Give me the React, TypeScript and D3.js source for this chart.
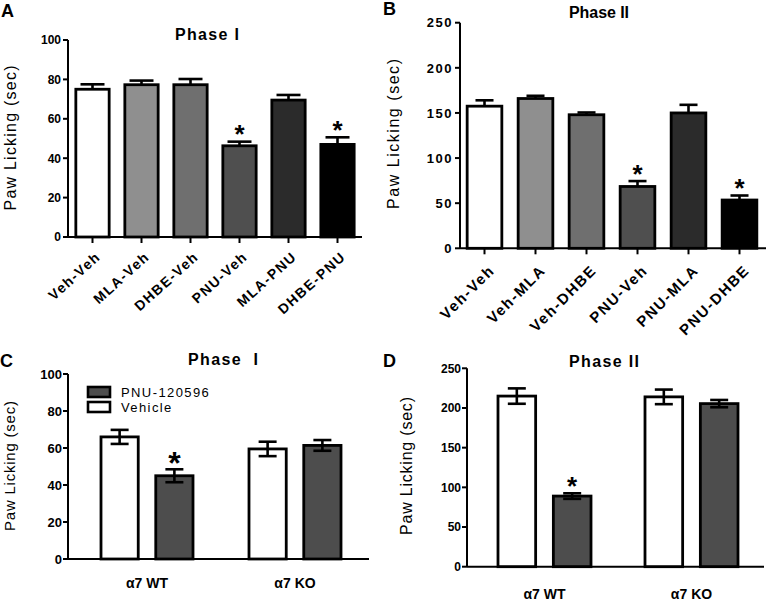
import React from "react";
import * as d3 from "d3";

// ---------- data ----------
const catsA = ["Veh-Veh", "MLA-Veh", "DHBE-Veh", "PNU-Veh", "MLA-PNU", "DHBE-PNU"];
const valsA = [75, 77.3, 77.3, 46.3, 69.5, 47];
const errA = [2.5, 2.1, 2.9, 2.1, 2.6, 3.6];
const sigA = [false, false, false, true, false, true];
const ticksA = [0, 20, 40, 60, 80, 100];

const catsB = ["Veh-Veh", "Veh-MLA", "Veh-DHBE", "PNU-Veh", "PNU-MLA", "PNU-DHBE"];
const valsB = [157.5, 166, 148, 68.5, 150, 53.5];
const errB = [6.5, 3, 2.5, 6, 9, 5];
const sigB = [false, false, false, true, false, true];
const ticksB = [0, 50, 100, 150, 200, 250];

const groups = ["α7 WT", "α7 KO"];
const treatments = ["Vehicle", "PNU-120596"];
const legendOrder = ["PNU-120596", "Vehicle"];

const vehC = [66, 59.5];
const vehErrC = [3.8, 3.9];
const pnuC = [45, 61.4];
const pnuErrC = [3.5, 2.9];
const sigC = [true, false];
const ticksC = [0, 20, 40, 60, 80, 100];

const vehD = [215, 214];
const vehErrD = [9.7, 9.2];
const pnuD = [89, 205.5];
const pnuErrD = [3.5, 4.6];
const sigD = [true, false];
const ticksD = [0, 50, 100, 150, 200, 250];

// ---------- style ----------
const FONT = "'Liberation Sans', Arial, Helvetica, sans-serif";
const fillsSix = ["#ffffff", "#8f8f8f", "#6f6f6f", "#4f4f4f", "#2b2b2b", "#000000"];
const treatFill: Record<string, string> = { Vehicle: "#ffffff", "PNU-120596": "#4d4d4d" };

type YAxisProps = {
  x: number;
  y: d3.ScaleLinear<number, number>;
  ticks: number[];
  fs: number;
  ls: number;
  gap: number;
};

function YAxis({ x, y, ticks, fs, ls, gap }: YAxisProps) {
  const [r0, r1] = y.range();
  return (
    <g>
      <line x1={x} x2={x} y1={r0} y2={r1} stroke="#000" strokeWidth={2} />
      {ticks.map((t) => (
        <g key={t}>
          <line x1={x - 5} x2={x} y1={y(t)} y2={y(t)} stroke="#000" strokeWidth={2} />
          <text
            x={x - gap}
            y={y(t)}
            dy="0.36em"
            textAnchor="end"
            fontFamily={FONT}
            fontWeight="bold"
            fontSize={fs}
            letterSpacing={ls}
          >
            {t}
          </text>
        </g>
      ))}
    </g>
  );
}

type BarProps = {
  cx: number;
  w: number;
  y: d3.ScaleLinear<number, number>;
  v: number;
  e: number;
  fill: string;
  both: boolean;
  capW: number;
  sig: boolean;
  star: number;
};

function Bar({ cx, w, y, v, e, fill, both, capW, sig, star }: BarProps) {
  const y0 = y(0);
  const yt = y(v);
  const ye = y(v + e);
  const yl = y(v - e);
  return (
    <g>
      {!both && (
        <g stroke="#000" strokeWidth={2.6}>
          <line x1={cx} x2={cx} y1={yt} y2={ye} />
          <line x1={cx - capW / 2} x2={cx + capW / 2} y1={ye} y2={ye} />
        </g>
      )}
      <rect x={cx - w / 2} y={yt} width={w} height={y0 - yt} fill={fill} stroke="#000" strokeWidth={2.8} />
      {both && (
        <g stroke="#000" strokeWidth={2.6}>
          <line x1={cx} x2={cx} y1={yl} y2={ye} />
          <line x1={cx - capW / 2} x2={cx + capW / 2} y1={ye} y2={ye} />
          <line x1={cx - capW / 2} x2={cx + capW / 2} y1={yl} y2={yl} />
        </g>
      )}
      {sig && (
        <text
          x={cx}
          y={ye - 13 + 0.56 * star}
          textAnchor="middle"
          fontFamily={FONT}
          fontWeight="bold"
          fontSize={star}
        >
          *
        </text>
      )}
    </g>
  );
}

function YLabel({ x, y, len, fs }: { x: number; y: number; len: number; fs: number }) {
  return (
    <text
      transform={`translate(${x},${y}) rotate(-90)`}
      textAnchor="middle"
      fontFamily={FONT}
      fontSize={fs}
      textLength={len}
      lengthAdjust="spacing"
    >
      Paw Licking (sec)
    </text>
  );
}

function Title({ x, y, len, text }: { x: number; y: number; len: number; text: string }) {
  return (
    <text
      x={x}
      y={y}
      textAnchor="middle"
      fontFamily={FONT}
      fontWeight="bold"
      fontSize={16}
      textLength={len}
      lengthAdjust="spacing"
      style={{ whiteSpace: "pre" }}
    >
      {text}
    </text>
  );
}

function Letter({ x, y, t }: { x: number; y: number; t: string }) {
  return (
    <text x={x} y={y} fontFamily={FONT} fontWeight="bold" fontSize={18}>
      {t}
    </text>
  );
}

function PanelSix({
  cats,
  vals,
  errs,
  sig,
  ticks,
  xRange,
  axisX,
  axisEnd,
  yRange,
  capFrac,
  tickFs,
  tickLs,
  tickGap,
  lblFs,
  lblLs,
  lblDx,
  lblDy,
  lblAngle,
}: any) {
  const x = d3
    .scaleBand<string>()
    .domain(cats)
    .range([xRange[0], xRange[1]])
    .paddingInner(0.32)
    .paddingOuter(0.16);
  const y = d3.scaleLinear().domain([0, ticks[ticks.length - 1]]).range(yRange);
  const y0 = y(0);
  const bw = x.bandwidth();
  return (
    <g>
      {cats.map((c: string, i: number) => {
        const cx = (x(c) as number) + bw / 2;
        return (
          <Bar
            key={c}
            cx={cx}
            w={bw}
            y={y}
            v={vals[i]}
            e={errs[i]}
            fill={fillsSix[i]}
            both={false}
            capW={bw * capFrac}
            sig={sig[i]}
            star={26}
          />
        );
      })}
      <line x1={axisX} x2={axisEnd} y1={y0} y2={y0} stroke="#000" strokeWidth={2} />
      {cats.map((c: string) => {
        const cx = (x(c) as number) + bw / 2;
        return (
          <g key={c}>
            <line x1={cx} x2={cx} y1={y0} y2={y0 + 6} stroke="#000" strokeWidth={2} />
            <text
              transform={`translate(${cx + lblDx},${y0 + lblDy}) rotate(${-lblAngle})`}
              textAnchor="end"
              fontFamily={FONT}
              fontWeight="bold"
              fontSize={lblFs}
              letterSpacing={lblLs}
            >
              {c}
            </text>
          </g>
        );
      })}
      <YAxis x={axisX} y={y} ticks={ticks} fs={tickFs} ls={tickLs} gap={tickGap} />
    </g>
  );
}

function PanelGroup({
  veh,
  vehErr,
  pnu,
  pnuErr,
  sig,
  ticks,
  gRange,
  inner,
  axisX,
  axisEnd,
  yRange,
  star,
  tickFs,
  tickGap,
  grpY,
  legend,
}: any) {
  const xg = d3.scalePoint<string>().domain(groups).range(gRange).padding(0.5);
  const xi = d3.scaleBand<string>().domain(treatments).range([-inner, inner]).paddingInner(0.32).paddingOuter(0);
  const bw = xi.bandwidth();
  const y = d3.scaleLinear().domain([0, ticks[ticks.length - 1]]).range(yRange);
  const y0 = y(0);
  const series: Record<string, { v: number[]; e: number[] }> = {
    Vehicle: { v: veh, e: vehErr },
    "PNU-120596": { v: pnu, e: pnuErr },
  };
  return (
    <g>
      {groups.map((g, gi) =>
        treatments.map((t) => {
          const cx = (xg(g) as number) + (xi(t) as number) + bw / 2;
          return (
            <Bar
              key={g + t}
              cx={cx}
              w={bw}
              y={y}
              v={series[t].v[gi]}
              e={series[t].e[gi]}
              fill={treatFill[t]}
              both={true}
              capW={18}
              sig={t === "PNU-120596" && sig[gi]}
              star={star}
            />
          );
        })
      )}
      <line x1={axisX} x2={axisEnd} y1={y0} y2={y0} stroke="#000" strokeWidth={2} />
      {groups.map((g) => (
        <text
          key={g}
          x={xg(g) as number}
          y={grpY}
          textAnchor="middle"
          fontFamily={FONT}
          fontWeight="bold"
          fontSize={14}
        >
          {g}
        </text>
      ))}
      <YAxis x={axisX} y={y} ticks={ticks} fs={tickFs} ls={0} gap={tickGap} />
      {legend &&
        legendOrder.map((t, i) => (
          <g key={t}>
            <rect
              x={legend.x}
              y={legend.y + i * 15}
              width={22}
              height={10}
              fill={treatFill[t]}
              stroke="#000"
              strokeWidth={2.6}
            />
            <text
              x={legend.x + 33}
              y={legend.y + i * 15 + 10}
              fontFamily={FONT}
              fontSize={13}
              letterSpacing={1.4}
            >
              {t}
            </text>
          </g>
        ))}
    </g>
  );
}

export default function App() {
  return (
    <svg
      width={768}
      height={601}
      viewBox="0 0 768 601"
      style={{ position: "absolute", left: 0, top: 0, background: "#fff" }}
    >
      <rect x={0} y={0} width={768} height={601} fill="#fff" />
      {/* Panel A */}
      <Letter x={1} y={17} t="A" />
      <Title x={207} y={40} len={64} text="Phase I" />
      <YLabel x={16} y={138} len={145} fs={16} />
      <PanelSix
        cats={catsA}
        vals={valsA}
        errs={errA}
        sig={sigA}
        ticks={ticksA}
        xRange={[68, 362]}
        axisX={68}
        axisEnd={362}
        yRange={[237, 40]}
        capFrac={0.72}
        tickFs={12}
        tickLs={0}
        tickGap={7}
        lblFs={14}
        lblLs={1.4}
        lblDx={9}
        lblDy={21}
        lblAngle={42}
      />
      {/* Panel B */}
      <Letter x={383} y={15} t="B" />
      <Title x={599} y={18} len={60} text="Phase II" />
      <YLabel x={399} y={134} len={150} fs={16} />
      <PanelSix
        cats={catsB}
        vals={valsB}
        errs={errB}
        sig={sigB}
        ticks={ticksB}
        xRange={[459, 765]}
        axisX={460}
        axisEnd={766}
        yRange={[248.3, 22.7]}
        capFrac={0.52}
        tickFs={13}
        tickLs={1.5}
        tickGap={7}
        lblFs={15}
        lblLs={1.6}
        lblDx={11}
        lblDy={23}
        lblAngle={45}
      />
      {/* Panel C */}
      <Letter x={0} y={367} t="C" />
      <Title x={223} y={365} len={70} text="Phase  I" />
      <YLabel x={15} y={466} len={130} fs={15} />
      <PanelGroup
        veh={vehC}
        vehErr={vehErrC}
        pnu={pnuC}
        pnuErr={pnuErrC}
        sig={sigC}
        ticks={ticksC}
        gRange={[73, 369]}
        inner={46}
        axisX={68}
        axisEnd={369}
        yRange={[559, 374]}
        star={32}
        tickFs={13}
        tickGap={6}
        grpY={588}
        legend={{ x: 88, y: 387 }}
      />
      {/* Panel D */}
      <Letter x={383} y={367} t="D" />
      <Title x={604} y={367} len={70} text="Phase II" />
      <YLabel x={412} y={466} len={138} fs={16} />
      <PanelGroup
        veh={vehD}
        vehErr={vehErrD}
        pnu={pnuD}
        pnuErr={pnuErrD}
        sig={sigD}
        ticks={ticksD}
        gRange={[471, 765]}
        inner={46.5}
        axisX={467}
        axisEnd={764}
        yRange={[566.7, 368.3]}
        star={26}
        tickFs={12}
        tickGap={6}
        grpY={599}
        legend={null}
      />
    </svg>
  );
}
